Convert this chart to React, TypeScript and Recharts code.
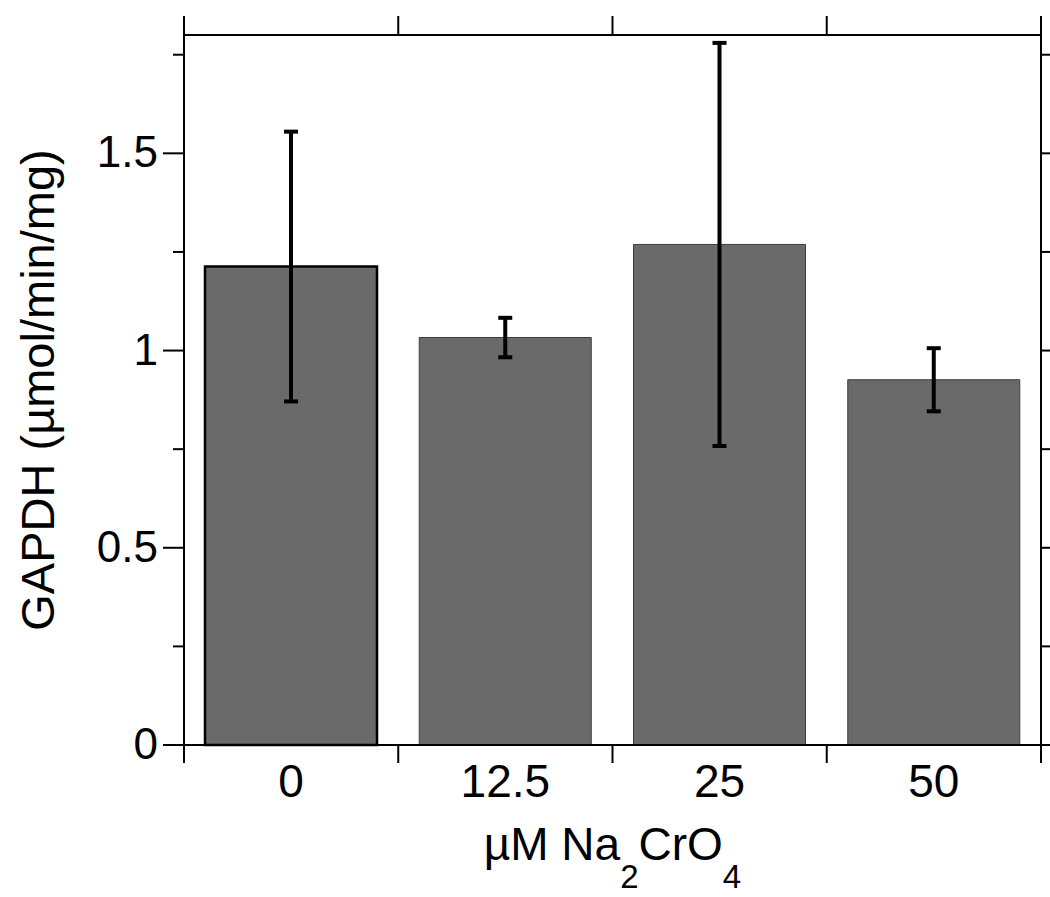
import { Bar, Cell, ComposedChart, ErrorBar, Line, XAxis, YAxis } from "recharts";

const doses = ["0", "12.5", "25", "50"];
const gapdh = [1.213, 1.033, 1.269, 0.926];
const gapdhErr = [0.342, 0.05, 0.511, 0.08];
const yMajor = [0, 0.5, 1, 1.5];
const yMinor = [0.25, 0.75, 1.25, 1.75];
const yMax = 1.8;

const data = doses.map((dose, i) => ({ dose, pos: i + 0.5, value: gapdh[i], err: gapdhErr[i] }));
const edges = [...doses.map((_, i) => i), doses.length];
const xTicks = [...edges, ...doses.map((_, i) => i + 0.5)].sort((a, b) => a - b);
const yTicks = [...yMajor, ...yMinor].sort((a, b) => a - b);

const FONT = "'Liberation Sans', Arial, sans-serif";

function BottomTick(props: any) {
  const { x, y, payload } = props;
  const v = payload.value;
  if (Number.isInteger(v)) {
    return <line x1={x} x2={x} y1={y} y2={y + 18} stroke="#000" strokeWidth={2} />;
  }
  return (
    <text x={x} y={y + 52} textAnchor="middle" fontSize={46} fill="#000">
      {doses[Math.floor(v)]}
    </text>
  );
}

function TopTick(props: any) {
  const { x, y } = props;
  return <line x1={x} x2={x} y1={y - 19} y2={y} stroke="#000" strokeWidth={2} />;
}

function LeftTick(props: any) {
  const { x, y, payload } = props;
  const v = payload.value;
  const major = yMajor.includes(v);
  const len = major ? 21 : 11;
  return (
    <g>
      <line x1={x - len} x2={x} y1={y} y2={y} stroke="#000" strokeWidth={2} />
      {major && (
        <text x={x - 26} y={y + 14} textAnchor="end" fontSize={44} fill="#000">
          {String(v)}
        </text>
      )}
    </g>
  );
}

function RightTick(props: any) {
  const { x, y, payload } = props;
  const len = yMajor.includes(payload.value) ? 21 : 11;
  return <line x1={x} x2={x + len} y1={y} y2={y} stroke="#000" strokeWidth={2} />;
}

function YTitle(props: any) {
  const { x, y, height } = props.viewBox;
  const cx = x + 54;
  const cy = y + height / 2;
  return (
    <text x={cx} y={cy} transform={`rotate(-90 ${cx} ${cy})`} textAnchor="middle" fontSize={47} fill="#000">
      GAPDH (µmol/min/mg)
    </text>
  );
}

function XTitle(props: any) {
  const { x, y, width } = props.viewBox;
  return (
    <text x={x + width / 2} y={y + 115} textAnchor="middle" fontSize={46} fill="#000">
      µM Na
      <tspan fontSize={33} dy={28}>2</tspan>
      <tspan dy={-28}>CrO</tspan>
      <tspan fontSize={33} dy={28}>4</tspan>
    </text>
  );
}

export default function App() {
  return (
    <div style={{ position: "absolute", left: 0, top: 0, background: "#fff", fontFamily: FONT }}>
      <ComposedChart width={1050} height={897} data={data} margin={{ top: 0, right: 0, bottom: 0, left: 0 }}>
        <XAxis
          xAxisId="bottom"
          dataKey="pos"
          type="number"
          domain={[0, doses.length]}
          ticks={xTicks}
          interval={0}
          height={152}
          tickSize={0}
          tickMargin={0}
          tickLine={false}
          tick={<BottomTick />}
          axisLine={{ stroke: "#000", strokeWidth: 2 }}
          label={{ content: (p: any) => <XTitle {...p} /> }}
        />
        <XAxis
          xAxisId="top"
          orientation="top"
          dataKey="pos"
          type="number"
          domain={[0, doses.length]}
          ticks={edges}
          interval={0}
          height={35}
          tickSize={0}
          tickMargin={0}
          tickLine={false}
          tick={<TopTick />}
          axisLine={{ stroke: "#000", strokeWidth: 2 }}
        />
        <YAxis
          yAxisId="left"
          type="number"
          domain={[0, yMax]}
          ticks={yTicks}
          interval={0}
          width={184}
          tickSize={0}
          tickMargin={0}
          tickLine={false}
          tick={<LeftTick />}
          axisLine={{ stroke: "#000", strokeWidth: 2 }}
          label={{ content: (p: any) => <YTitle {...p} /> }}
        />
        <YAxis
          yAxisId="right"
          orientation="right"
          type="number"
          domain={[0, yMax]}
          ticks={yTicks}
          interval={0}
          width={9}
          tickSize={0}
          tickMargin={0}
          tickLine={false}
          tick={<RightTick />}
          axisLine={{ stroke: "#000", strokeWidth: 2 }}
        />
        <Bar xAxisId="bottom" yAxisId="left" dataKey="value" barSize={172} fill="#6a6a6a" isAnimationActive={false}>
          {data.map((d, i) => (
            <Cell key={d.dose} stroke={i === 0 ? "#000" : "#3c3c3c"} strokeWidth={i === 0 ? 2.5 : 1} />
          ))}
          <ErrorBar dataKey="err" direction="y" width={7} stroke="#000" strokeWidth={4} isAnimationActive={false} />
        </Bar>
        {/* invisible series so the top and right frame axes get their scales */}
        <Line
          xAxisId="top"
          yAxisId="right"
          dataKey="value"
          stroke="none"
          dot={false}
          activeDot={false}
          legendType="none"
          isAnimationActive={false}
        />
      </ComposedChart>
    </div>
  );
}
